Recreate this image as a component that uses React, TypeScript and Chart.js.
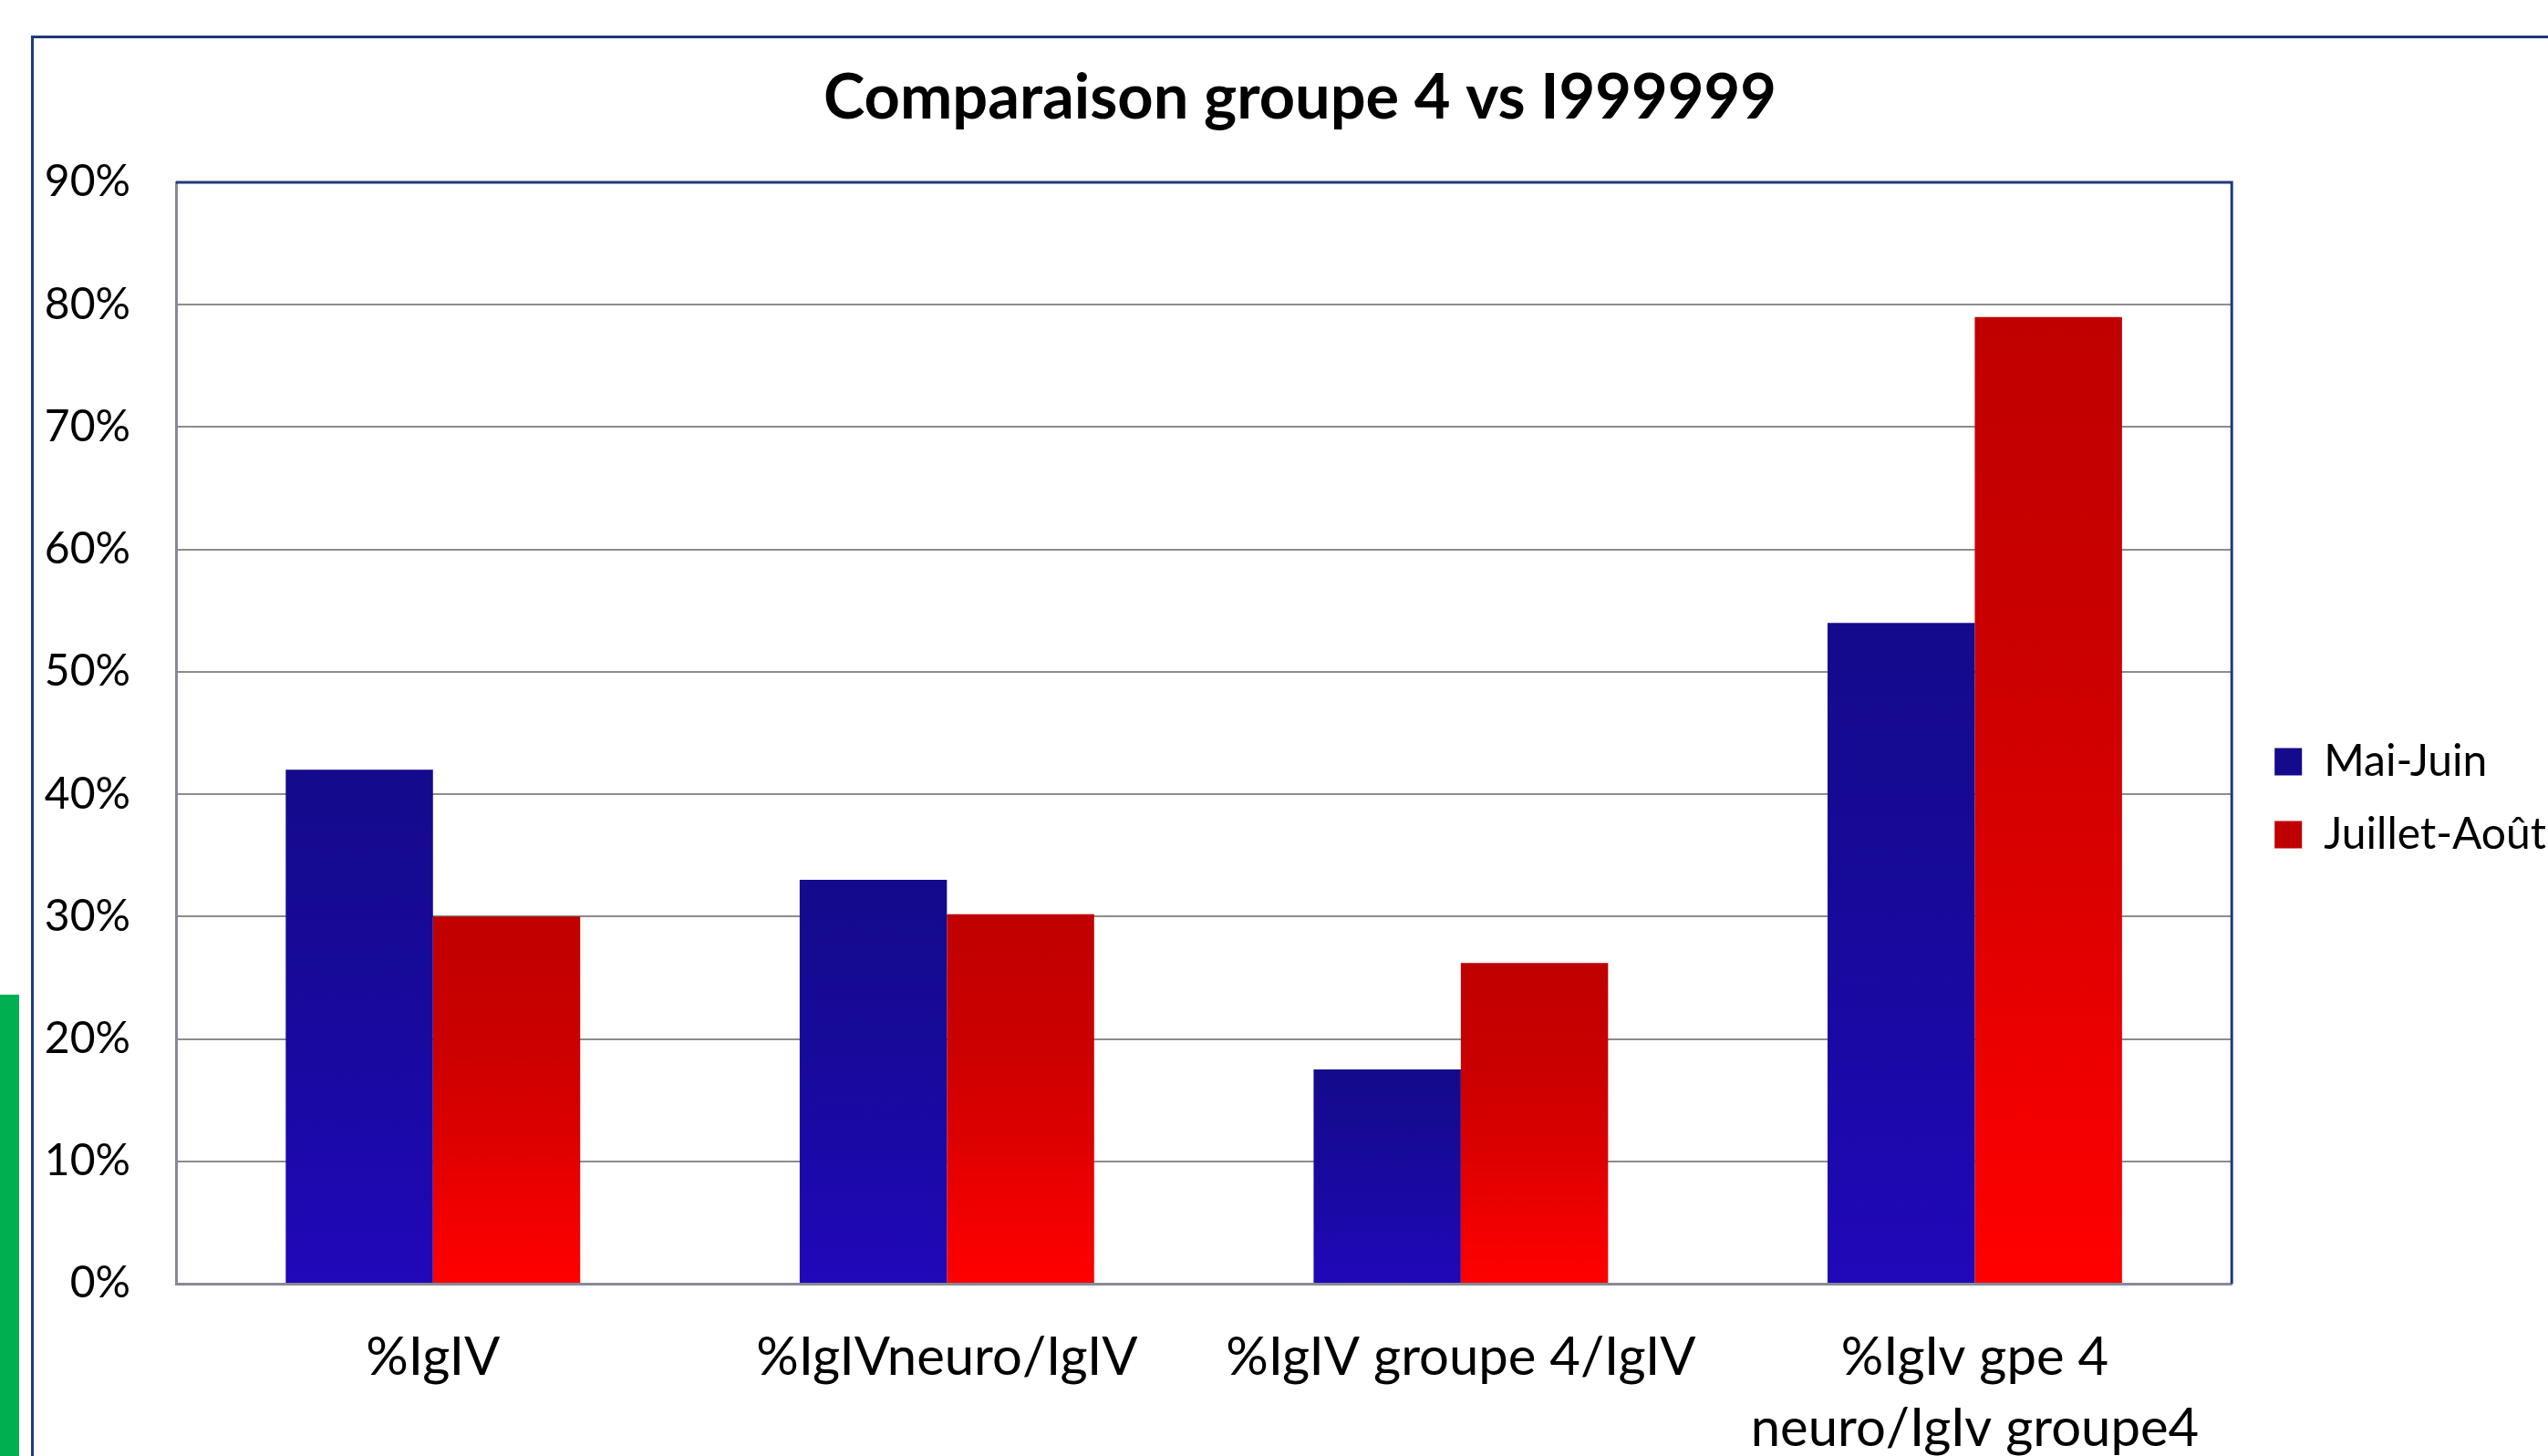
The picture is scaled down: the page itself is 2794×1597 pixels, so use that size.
import React, { useEffect, useRef } from "react";
import { Chart, registerables } from "chart.js";

Chart.register(...registerables);

const TITLE = "Comparaison groupe 4 vs I999999";
const categories: (string | string[])[] = [
  "%IgIV",
  "%IgIVneuro/IgIV",
  "%IgIV groupe 4/IgIV",
  ["%IgIv gpe 4", "neuro/IgIv groupe4"],
];
const seriesNames = ["Mai-Juin", "Juillet-Août"];
const maiJuin = [42, 33, 17.5, 54];
const juilletAout = [30, 30.2, 26.2, 79];
const yMax = 90;
const yStep = 10;

const BLUE_STOPS: [number, string][] = [
  [0, "#140A8C"],
  [0.4, "#170A99"],
  [0.7, "#1B09A8"],
  [1, "#2108BA"],
];
const RED_STOPS: [number, string][] = [
  [0, "#C00000"],
  [0.35, "#CB0000"],
  [0.6, "#DC0000"],
  [0.8, "#F00000"],
  [1, "#FF0000"],
];

const FONT = "Lato";
const LEGEND_FONT = 48;

function barGradient(stops: [number, string][]) {
  return (c: any) => {
    const chart = c.chart;
    const ys = chart.scales && chart.scales.y;
    if (c.type !== "data" || !ys || !chart.chartArea) return stops[1][1];
    const top = ys.getPixelForValue(c.parsed ? c.parsed.y : c.raw);
    const bot = ys.getPixelForValue(0);
    if (!isFinite(top) || !isFinite(bot) || top === bot) return stops[1][1];
    const g = chart.ctx.createLinearGradient(0, top, 0, bot);
    stops.forEach(([o, col]) => g.addColorStop(o, col));
    return g;
  };
}

const decorPlugin = {
  id: "decor",
  afterLayout(chart: any) {
    const tb = chart.titleBlock;
    if (tb) {
      tb.left += 8;
      tb.right += 8;
    }
    const lg = chart.legend;
    if (!lg) return;
    const dx = chart.chartArea.right + 15 - lg.left;
    const dy = 77;
    lg.left += dx;
    lg.right += dx;
    lg.top += dy;
    lg.bottom += dy;
    const stopsList = [BLUE_STOPS, RED_STOPS];
    (lg.legendHitBoxes || []).forEach((hb: any, i: number) => {
      hb.left += dx;
      hb.top += dy;
      const y0 = hb.top + Math.max((LEGEND_FONT - 30) / 2, 0);
      const g = chart.ctx.createLinearGradient(0, y0, 0, y0 + 30);
      stopsList[i].forEach(([o, col]) => g.addColorStop(o, col));
      if (lg.legendItems && lg.legendItems[i]) lg.legendItems[i].fillStyle = g;
    });
  },
  beforeDraw(chart: any) {
    const ctx = chart.ctx;
    ctx.save();
    ctx.fillStyle = "#ffffff";
    ctx.fillRect(0, 0, chart.width, chart.height);
    // green side strip
    ctx.fillStyle = "#00B050";
    ctx.fillRect(0, 1091, 21, chart.height - 1091);
    // outer frame
    ctx.strokeStyle = "#1F3A7A";
    ctx.lineWidth = 3;
    ctx.strokeRect(35.5, 40.5, chart.width + 20, chart.height + 20);
    ctx.restore();
  },
  beforeDatasetsDraw(chart: any) {
    const { ctx, chartArea } = chart;
    ctx.save();
    ctx.strokeStyle = "#1F3A7A";
    ctx.lineWidth = 3;
    ctx.beginPath();
    ctx.moveTo(chartArea.left, chartArea.top);
    ctx.lineTo(chartArea.right, chartArea.top);
    ctx.lineTo(chartArea.right, chartArea.bottom);
    ctx.stroke();
    ctx.restore();
  },
};

export default function App() {
  const ref = useRef<HTMLCanvasElement | null>(null);
  useEffect(() => {
    if (!ref.current) return;
    const chart = new Chart(ref.current, {
      type: "bar",
      data: {
        labels: categories,
        datasets: [
          {
            label: seriesNames[0],
            data: maiJuin,
            backgroundColor: barGradient(BLUE_STOPS),
            borderWidth: 0,
            categoryPercentage: 0.573,
            barPercentage: 1,
          },
          {
            label: seriesNames[1],
            data: juilletAout,
            backgroundColor: barGradient(RED_STOPS),
            borderWidth: 0,
            categoryPercentage: 0.573,
            barPercentage: 1,
          },
        ],
      },
      options: {
        animation: false,
        responsive: false,
        maintainAspectRatio: false,
        devicePixelRatio: 1,
        layout: { padding: { left: 48, right: 7, top: 0, bottom: 0 } },
        plugins: {
          tooltip: { enabled: false },
          title: {
            display: true,
            text: TITLE,
            color: "#000000",
            font: { family: FONT, size: 68.5, weight: "bold", lineHeight: 1.2 },
            padding: { top: 67, bottom: 50.8 },
          },
          legend: {
            display: true,
            position: "right",
            labels: {
              boxWidth: 30,
              boxHeight: 30,
              padding: 32,
              color: "#000000",
              font: { family: FONT, size: LEGEND_FONT },
            },
          },
        },
        scales: {
          x: {
            grid: { display: false, drawTicks: false },
            border: { display: true, color: "#868A96", width: 3 },
            ticks: {
              color: "#000000",
              padding: 42,
              maxRotation: 0,
              autoSkip: false,
              font: { family: FONT, size: 58, lineHeight: 1.345 },
            },
            afterFit: (s: any) => {
              s.height = 189;
            },
          },
          y: {
            min: 0,
            max: yMax,
            grid: { color: "#8C8C8C", lineWidth: 2, drawTicks: false },
            border: { display: true, color: "#868A96", width: 3 },
            ticks: {
              stepSize: yStep,
              color: "#000000",
              padding: 50,
              font: { family: FONT, size: 48 },
              callback: (v: any) => v + "%",
            },
            afterFit: (s: any) => {
              s.width = 145;
            },
          },
        },
      },
      plugins: [decorPlugin],
    });
    return () => chart.destroy();
  }, []);
  return (
    <div style={{ position: "fixed", left: 0, top: 0, width: 2794, height: 1597, background: "#fff" }}>
      <canvas ref={ref} width={2794} height={1597} style={{ width: 2794, height: 1597, display: "block" }} />
    </div>
  );
}
